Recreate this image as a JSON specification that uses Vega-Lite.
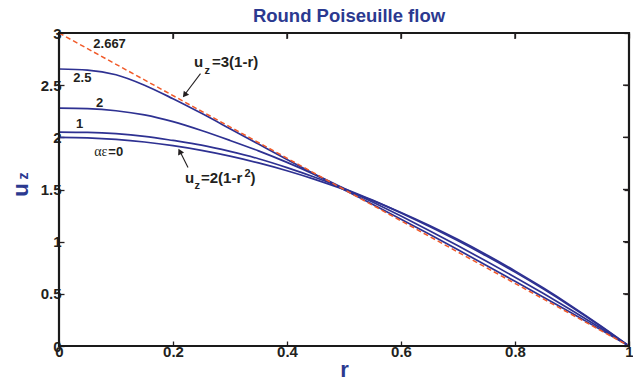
{
  "$schema": "https://vega.github.io/schema/vega-lite/v6.json",
  "width": 570,
  "height": 313,
  "autosize": {"type": "none"},
  "padding": {"left": 59, "top": 33, "right": 4, "bottom": 34},
  "background": "white",
  "title": {"text": "Round Poiseuille flow", "fontSize": 18.5, "font": "Liberation Sans", "fontWeight": "bold", "color": "#2B3990", "offset": 9, "dy": 8, "dx": 5, "anchor": "middle"},
  "config": {
    "view": {"stroke": null},
    "axis": {
      "grid": false,
      "domain": false,
      "tickColor": "#231F20",
      "tickSize": -5,
      "tickWidth": 1.3,
      "labelFont": "Liberation Sans",
      "labelFontSize": 15,
      "labelFontWeight": "bold",
      "labelColor": "#231F20",
      "labelFlush": false,
      "labelOverlap": false,
      "titleFont": "Liberation Sans",
      "titleFontWeight": "bold",
      "titleColor": "#2B3990",
      "titleFontSize": 22
    }
  },
  "datasets": {
    "curves": [
      {"ae": "0", "r": 0, "u": 2.0}, {"ae": "0", "r": 0.05, "u": 1.995}, {"ae": "0", "r": 0.1, "u": 1.98}, {"ae": "0", "r": 0.15, "u": 1.955}, {"ae": "0", "r": 0.2, "u": 1.92}, {"ae": "0", "r": 0.25, "u": 1.875}, {"ae": "0", "r": 0.3, "u": 1.82}, {"ae": "0", "r": 0.35, "u": 1.755}, {"ae": "0", "r": 0.4, "u": 1.68}, {"ae": "0", "r": 0.45, "u": 1.595}, {"ae": "0", "r": 0.5, "u": 1.5}, {"ae": "0", "r": 0.55, "u": 1.395}, {"ae": "0", "r": 0.6, "u": 1.28}, {"ae": "0", "r": 0.65, "u": 1.155}, {"ae": "0", "r": 0.7, "u": 1.02}, {"ae": "0", "r": 0.75, "u": 0.875}, {"ae": "0", "r": 0.8, "u": 0.72}, {"ae": "0", "r": 0.85, "u": 0.555}, {"ae": "0", "r": 0.9, "u": 0.38}, {"ae": "0", "r": 0.95, "u": 0.195}, {"ae": "0", "r": 1, "u": 0},
      {"ae": "1", "r": 0, "u": 2.05}, {"ae": "1", "r": 0.05, "u": 2.047}, {"ae": "1", "r": 0.1, "u": 2.035}, {"ae": "1", "r": 0.15, "u": 2.01}, {"ae": "1", "r": 0.2, "u": 1.97}, {"ae": "1", "r": 0.25, "u": 1.925}, {"ae": "1", "r": 0.3, "u": 1.865}, {"ae": "1", "r": 0.35, "u": 1.795}, {"ae": "1", "r": 0.4, "u": 1.71}, {"ae": "1", "r": 0.45, "u": 1.615}, {"ae": "1", "r": 0.5, "u": 1.51}, {"ae": "1", "r": 0.55, "u": 1.398}, {"ae": "1", "r": 0.6, "u": 1.275}, {"ae": "1", "r": 0.65, "u": 1.145}, {"ae": "1", "r": 0.7, "u": 1.008}, {"ae": "1", "r": 0.75, "u": 0.862}, {"ae": "1", "r": 0.8, "u": 0.708}, {"ae": "1", "r": 0.85, "u": 0.545}, {"ae": "1", "r": 0.9, "u": 0.372}, {"ae": "1", "r": 0.95, "u": 0.19}, {"ae": "1", "r": 1, "u": 0},
      {"ae": "2", "r": 0, "u": 2.28}, {"ae": "2", "r": 0.05, "u": 2.275}, {"ae": "2", "r": 0.1, "u": 2.255}, {"ae": "2", "r": 0.15, "u": 2.215}, {"ae": "2", "r": 0.2, "u": 2.15}, {"ae": "2", "r": 0.25, "u": 2.065}, {"ae": "2", "r": 0.3, "u": 1.97}, {"ae": "2", "r": 0.35, "u": 1.87}, {"ae": "2", "r": 0.4, "u": 1.76}, {"ae": "2", "r": 0.45, "u": 1.64}, {"ae": "2", "r": 0.5, "u": 1.51}, {"ae": "2", "r": 0.55, "u": 1.38}, {"ae": "2", "r": 0.6, "u": 1.245}, {"ae": "2", "r": 0.65, "u": 1.105}, {"ae": "2", "r": 0.7, "u": 0.96}, {"ae": "2", "r": 0.75, "u": 0.812}, {"ae": "2", "r": 0.8, "u": 0.66}, {"ae": "2", "r": 0.85, "u": 0.503}, {"ae": "2", "r": 0.9, "u": 0.34}, {"ae": "2", "r": 0.95, "u": 0.172}, {"ae": "2", "r": 1, "u": 0},
      {"ae": "2.5", "r": 0, "u": 2.655}, {"ae": "2.5", "r": 0.05, "u": 2.645}, {"ae": "2.5", "r": 0.1, "u": 2.6}, {"ae": "2.5", "r": 0.15, "u": 2.5}, {"ae": "2.5", "r": 0.2, "u": 2.37}, {"ae": "2.5", "r": 0.25, "u": 2.23}, {"ae": "2.5", "r": 0.3, "u": 2.083}, {"ae": "2.5", "r": 0.35, "u": 1.935}, {"ae": "2.5", "r": 0.4, "u": 1.787}, {"ae": "2.5", "r": 0.45, "u": 1.642}, {"ae": "2.5", "r": 0.5, "u": 1.498}, {"ae": "2.5", "r": 0.55, "u": 1.358}, {"ae": "2.5", "r": 0.6, "u": 1.215}, {"ae": "2.5", "r": 0.65, "u": 1.07}, {"ae": "2.5", "r": 0.7, "u": 0.922}, {"ae": "2.5", "r": 0.75, "u": 0.772}, {"ae": "2.5", "r": 0.8, "u": 0.62}, {"ae": "2.5", "r": 0.85, "u": 0.467}, {"ae": "2.5", "r": 0.9, "u": 0.313}, {"ae": "2.5", "r": 0.95, "u": 0.157}, {"ae": "2.5", "r": 1, "u": 0}
    ],
    "limit": [{"r": 0, "u": 3}, {"r": 1, "u": 0}],
    "box": [{"r0": 0, "r1": 1, "u0": 0, "u1": 3}],
    "topticks": [{"r": 0.2, "u": 3}, {"r": 0.4, "u": 3}, {"r": 0.6, "u": 3}, {"r": 0.8, "u": 3}],
    "rightticks": [{"r": 1, "u": 0.5}, {"r": 1, "u": 1}, {"r": 1, "u": 1.5}, {"r": 1, "u": 2}, {"r": 1, "u": 2.5}],
    "labels": [
      {"text": "2.667", "r": 0.0602, "u": 2.853},
      {"text": "2.5", "r": 0.0251, "u": 2.526},
      {"text": "2", "r": 0.0649, "u": 2.286},
      {"text": "1", "r": 0.0298, "u": 2.093},
      {"text": "=0", "r": 0.0865, "u": 1.82}
    ],
    "greek": [{"text": "αε", "r": 0.0619, "u": 1.82}],
    "formula": [
      {"text": "u", "r": 0.2368, "u": 2.67},
      {"text": "=3(1-r)", "r": 0.2684, "u": 2.67},
      {"text": "u", "r": 0.2211, "u": 1.564},
      {"text": "=2(1-r", "r": 0.2491, "u": 1.564},
      {"text": ")", "r": 0.336, "u": 1.564}
    ],
    "small": [
      {"text": "z", "r": 0.2553, "u": 2.603},
      {"text": "z", "r": 0.2377, "u": 1.507},
      {"text": "2", "r": 0.3254, "u": 1.622}
    ],
    "arrows": [
      {"r": 0.2482, "u": 2.6106, "r2": 0.22, "u2": 2.4058},
      {"r": 0.2263, "u": 1.7115, "r2": 0.2119, "u2": 1.8692}
    ],
    "head1": [{"r": 0.2205, "u": 2.4058}],
    "head2": [{"r": 0.2119, "u": 1.866}],
    "ytitle": [{"text": "z", "r": 0, "u": 1.63}]
  },
  "resolve": {"axis": {"x": "independent", "y": "independent"}},
  "layer": [
    {
      "data": {"name": "curves"},
      "mark": {"type": "line", "color": "#2E3192", "strokeWidth": 1.7, "interpolate": "monotone"},
      "encoding": {
        "x": {"field": "r", "type": "quantitative", "scale": {"domain": [0, 1], "nice": false}, "axis": {"orient": "bottom", "values": [0, 0.2, 0.4, 0.6, 0.8, 1], "format": "~g", "title": "r", "labelPadding": 3, "titlePadding": 0}},
        "y": {"field": "u", "type": "quantitative", "scale": {"domain": [0, 3], "nice": false}, "axis": {"orient": "left", "values": [0, 0.5, 1, 1.5, 2, 2.5, 3], "format": "~g", "title": "u", "labelPadding": 3, "titlePadding": 8}},
        "detail": {"field": "ae"}
      }
    },
    {
      "data": {"name": "limit"},
      "mark": {"type": "line", "color": "#F15A29", "strokeWidth": 1.5, "strokeDash": [5, 3]},
      "encoding": {
        "x": {"field": "r", "type": "quantitative", "axis": {"orient": "top", "values": [0, 0.2, 0.4, 0.6, 0.8, 1], "labels": false, "title": null, "ticks": true, "tickSize": -5, "tickColor": "#231F20", "tickWidth": 1.3}},
        "y": {"field": "u", "type": "quantitative", "axis": {"orient": "right", "values": [0, 0.5, 1, 1.5, 2, 2.5, 3], "labels": false, "title": null, "ticks": true, "tickSize": -5, "tickColor": "#231F20", "tickWidth": 1.3}}
      }
    },
    {
      "data": {"name": "box"},
      "mark": {"type": "rect", "fill": "transparent", "stroke": "#1A1A1A", "strokeWidth": 2.2},
      "encoding": {
        "x": {"field": "r0", "type": "quantitative", "axis": null},
        "x2": {"field": "r1"},
        "y": {"field": "u0", "type": "quantitative", "axis": null},
        "y2": {"field": "u1"}
      }
    },
    {
      "data": {"name": "topticks"},
      "mark": {"type": "tick", "orient": "vertical", "color": "#231F20", "size": 6, "thickness": 1.4, "yOffset": 3, "opacity": 1},
      "encoding": {
        "x": {"field": "r", "type": "quantitative", "axis": null},
        "y": {"field": "u", "type": "quantitative", "axis": null}
      }
    },
    {
      "data": {"name": "rightticks"},
      "mark": {"type": "tick", "orient": "horizontal", "color": "#231F20", "size": 6, "thickness": 1.4, "xOffset": -3, "opacity": 1},
      "encoding": {
        "x": {"field": "r", "type": "quantitative", "axis": null},
        "y": {"field": "u", "type": "quantitative", "axis": null}
      }
    },
    {
      "data": {"name": "arrows"},
      "mark": {"type": "rule", "color": "#231F20", "strokeWidth": 1.1},
      "encoding": {
        "x": {"field": "r", "type": "quantitative", "axis": null},
        "y": {"field": "u", "type": "quantitative", "axis": null},
        "x2": {"field": "r2"},
        "y2": {"field": "u2"}
      }
    },
    {
      "data": {"name": "head1"},
      "mark": {"type": "point", "shape": "triangle-up", "filled": true, "fill": "#231F20", "strokeWidth": 0, "size": 45, "angle": 217, "opacity": 1},
      "encoding": {
        "x": {"field": "r", "type": "quantitative", "axis": null},
        "y": {"field": "u", "type": "quantitative", "axis": null}
      }
    },
    {
      "data": {"name": "head2"},
      "mark": {"type": "point", "shape": "triangle-up", "filled": true, "fill": "#231F20", "strokeWidth": 0, "size": 45, "angle": 333, "opacity": 1},
      "encoding": {
        "x": {"field": "r", "type": "quantitative", "axis": null},
        "y": {"field": "u", "type": "quantitative", "axis": null}
      }
    },
    {
      "data": {"name": "labels"},
      "mark": {"type": "text", "font": "Liberation Sans", "fontWeight": "bold", "fontSize": 13, "color": "#231F20", "align": "left", "baseline": "alphabetic"},
      "encoding": {
        "x": {"field": "r", "type": "quantitative", "axis": null},
        "y": {"field": "u", "type": "quantitative", "axis": null},
        "text": {"field": "text"}
      }
    },
    {
      "data": {"name": "greek"},
      "mark": {"type": "text", "font": "Liberation Serif", "fontSize": 14, "color": "#231F20", "align": "left", "baseline": "alphabetic"},
      "encoding": {
        "x": {"field": "r", "type": "quantitative", "axis": null},
        "y": {"field": "u", "type": "quantitative", "axis": null},
        "text": {"field": "text"}
      }
    },
    {
      "data": {"name": "formula"},
      "mark": {"type": "text", "font": "Liberation Sans", "fontWeight": "bold", "fontSize": 15, "color": "#231F20", "align": "left", "baseline": "alphabetic"},
      "encoding": {
        "x": {"field": "r", "type": "quantitative", "axis": null},
        "y": {"field": "u", "type": "quantitative", "axis": null},
        "text": {"field": "text"}
      }
    },
    {
      "data": {"name": "small"},
      "mark": {"type": "text", "font": "Liberation Sans", "fontWeight": "bold", "fontSize": 11, "color": "#231F20", "align": "left", "baseline": "alphabetic"},
      "encoding": {
        "x": {"field": "r", "type": "quantitative", "axis": null},
        "y": {"field": "u", "type": "quantitative", "axis": null},
        "text": {"field": "text"}
      }
    },
    {
      "data": {"name": "ytitle"},
      "mark": {"type": "text", "font": "Liberation Sans", "fontWeight": "bold", "fontSize": 14, "color": "#2B3990", "align": "center", "baseline": "middle", "angle": 270, "dy": -35},
      "encoding": {
        "x": {"field": "r", "type": "quantitative", "axis": null},
        "y": {"field": "u", "type": "quantitative", "axis": null},
        "text": {"field": "text"}
      }
    }
  ]
}
